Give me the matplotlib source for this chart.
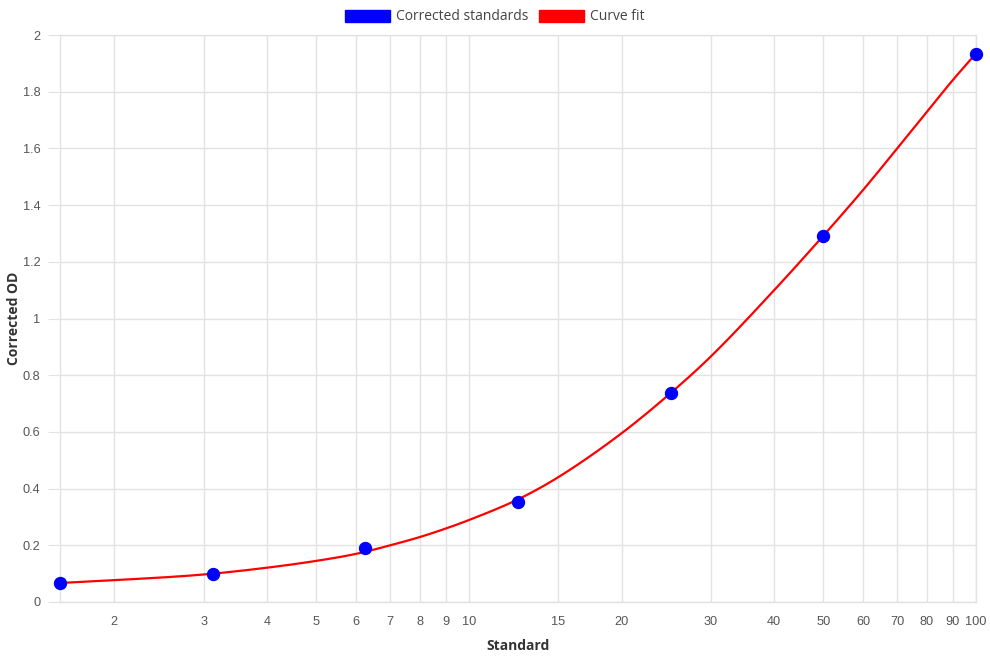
import matplotlib
matplotlib.use("Agg")
import numpy as np
import matplotlib.pyplot as plt
from matplotlib.patches import Patch
from matplotlib.ticker import FixedLocator, NullLocator, FuncFormatter

# standards (concentration) and corrected OD readings
standards = [1.5625, 3.125, 6.25, 12.5, 25, 50, 100]
corrected_od = [0.066, 0.099, 0.190, 0.353, 0.737, 1.291, 1.933]

# fitted curve
fit_x = [1.5625, 2, 3, 4, 5, 6, 7, 8, 9, 10, 12.5, 15, 20, 25, 30, 40, 50, 60, 70, 80, 90, 100]
fit_y = [0.067, 0.077, 0.097, 0.121, 0.145, 0.170, 0.200, 0.229, 0.259, 0.289, 0.362, 0.440, 0.595, 0.737,
         0.866, 1.100, 1.292, 1.455, 1.601, 1.729, 1.841, 1.935]

x_ticks = [2, 3, 4, 5, 6, 7, 8, 9, 10, 15, 20, 30, 40, 50, 60, 70, 80, 90, 100]
y_ticks = [0, 0.2, 0.4, 0.6, 0.8, 1, 1.2, 1.4, 1.6, 1.8, 2]

GRID = "#e2e2e2"


def smooth(xs, ys, n=12):
    # monotone cubic (Fritsch-Carlson) drawing between the read points, in log-x space
    lx = np.log10(xs)
    y = np.asarray(ys, float)
    h = np.diff(lx)
    d = np.diff(y) / h
    m = np.empty_like(y)
    m[0], m[-1] = d[0], d[-1]
    for i in range(1, len(y) - 1):
        m[i] = 0 if d[i - 1] * d[i] <= 0 else (d[i - 1] + d[i]) / 2
    out_x, out_y = [], []
    for i in range(len(h)):
        t = np.linspace(0, 1, n, endpoint=False)
        h00 = 2 * t**3 - 3 * t**2 + 1
        h10 = t**3 - 2 * t**2 + t
        h01 = -2 * t**3 + 3 * t**2
        h11 = t**3 - t**2
        out_x.extend(lx[i] + t * h[i])
        out_y.extend(h00 * y[i] + h10 * h[i] * m[i] + h01 * y[i + 1] + h11 * h[i] * m[i + 1])
    out_x.append(lx[-1])
    out_y.append(y[-1])
    return 10 ** np.array(out_x), np.array(out_y)


fig = plt.figure(figsize=(9.9, 6.6), dpi=100)
ax = fig.add_axes([60 / 990, 1 - 602 / 660, 916 / 990, 567 / 660])

cx, cy = smooth(fit_x, fit_y)
ax.plot(cx, cy, color="red", lw=1.6, zorder=3)
ax.plot(standards, corrected_od, "o", color="blue", ms=8.6, zorder=4, clip_on=False)

ax.set_xscale("log")
ax.set_xlim(1.5625, 100)
ax.set_ylim(0, 2)

ax.xaxis.set_major_locator(FixedLocator(x_ticks))
ax.xaxis.set_minor_locator(NullLocator())
ax.xaxis.set_major_formatter(FuncFormatter(lambda v, p: "%g" % v))
ax.set_yticks(y_ticks)
ax.yaxis.set_major_formatter(FuncFormatter(lambda v, p: "%g" % v))

ax.grid(True, color=GRID, lw=1)
ax.set_axisbelow(True)
for s in ax.spines.values():
    s.set_color(GRID)
    s.set_linewidth(1)

ax.tick_params(axis="y", length=9, color=GRID, labelcolor="#555555", pad=5)
ax.tick_params(axis="x", length=0, labelcolor="#555555", pad=10)
for lab in ax.get_xticklabels() + ax.get_yticklabels():
    lab.set_fontfamily("Liberation Sans")
    lab.set_fontsize(9.2)

ax.set_xlabel("Standard", family="Open Sans", weight="bold", size=10, color="#333333")
ax.set_ylabel("Corrected OD", family="Open Sans", weight="bold", size=10, color="#333333")
ax.xaxis.set_label_coords(0.5, -(646 - 602) / 567)
ax.yaxis.set_label_coords(-(60 - 14) / 916, 0.5)
ax.xaxis.label.set_va("center")
ax.yaxis.label.set_va("center")

handles = [Patch(facecolor="blue", edgecolor="blue", label="Corrected standards"),
           Patch(facecolor="red", edgecolor="red", label="Curve fit")]
fig.legend(handles=handles, loc="center", bbox_to_anchor=(0.5, 1 - 17 / 660), ncol=2, frameon=False,
           prop={"family": "Open Sans", "size": 10}, labelcolor="#444444",
           handlelength=3.2, handleheight=1.0, handletextpad=0.45, columnspacing=0.8)

fig.savefig("out.png", dpi=100)
